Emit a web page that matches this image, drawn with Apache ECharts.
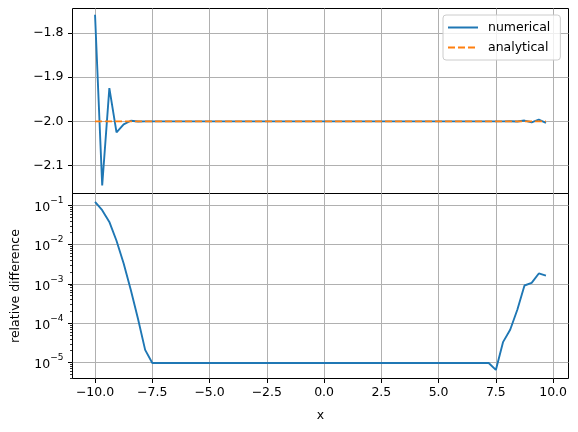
<!DOCTYPE html>
<html><head><meta charset="utf-8">
<script src="https://cdn.jsdelivr.net/npm/echarts@6/dist/echarts.min.js"></script>
<style>html,body{margin:0;padding:0;background:#fff}#c{width:578px;height:432px}</style>
</head><body><div id="c"></div>
<script>
const xValues = [-10, -9.6875, -9.375, -9.0625, -8.75, -8.4375, -8.125, -7.8125, -7.5, -7.1875, -6.875, -6.5625, -6.25, -5.9375, -5.625, -5.3125, -5, -4.6875, -4.375, -4.0625, -3.75, -3.4375, -3.125, -2.8125, -2.5, -2.1875, -1.875, -1.5625, -1.25, -0.9375, -0.625, -0.3125, 0, 0.3125, 0.625, 0.9375, 1.25, 1.5625, 1.875, 2.1875, 2.5, 2.8125, 3.125, 3.4375, 3.75, 4.0625, 4.375, 4.6875, 5, 5.3125, 5.625, 5.9375, 6.25, 6.5625, 6.875, 7.1875, 7.5, 7.8125, 8.125, 8.4375, 8.75, 9.0625, 9.375, 9.6875];
const numerical = [-1.759, -2.145, -1.925, -2.025, -2.0066, -1.9986, -2.00026, -1.99996,
  -2.00002, -2.00002, -2.00002, -2.00002, -2.00002, -2.00002, -2.00002, -2.00002,
  -2.00002, -2.00002, -2.00002, -2.00002, -2.00002, -2.00002, -2.00002, -2.00002,
  -2.00002, -2.00002, -2.00002, -2.00002, -2.00002, -2.00002, -2.00002, -2.00002,
  -2.00002, -2.00002, -2.00002, -2.00002, -2.00002, -2.00002, -2.00002, -2.00002,
  -2.00002, -2.00002, -2.00002, -2.00002, -2.00002, -2.00002, -2.00002, -2.00002,
  -2.00002, -2.00002, -2.00002, -2.00002, -2.00002, -2.00002, -2.00002, -2.00002,
  -1.99999, -2.00007, -1.99986, -2.00044, -1.9982, -2.0021, -1.9963, -2.0032];
const analytical = [-2, -2, -2, -2, -2, -2, -2, -2, -2, -2, -2, -2, -2, -2, -2, -2,
  -2, -2, -2, -2, -2, -2, -2, -2, -2, -2, -2, -2, -2, -2, -2, -2,
  -2, -2, -2, -2, -2, -2, -2, -2, -2, -2, -2, -2, -2, -2, -2, -2,
  -2, -2, -2, -2, -2, -2, -2, -2, -2, -2, -2, -2, -2, -2, -2, -2];
const relativeDifference = [0.121, 0.0746, 0.0377, 0.0125, 0.0033, 7.0e-4, 1.3e-4, 2.1e-5, 9.7e-6,
  9.7e-6, 9.7e-6, 9.7e-6, 9.7e-6, 9.7e-6, 9.7e-6, 9.7e-6, 9.7e-6, 9.7e-6, 9.7e-6,
  9.7e-6, 9.7e-6, 9.7e-6, 9.7e-6, 9.7e-6, 9.7e-6, 9.7e-6, 9.7e-6, 9.7e-6, 9.7e-6,
  9.7e-6, 9.7e-6, 9.7e-6, 9.7e-6, 9.7e-6, 9.7e-6, 9.7e-6, 9.7e-6, 9.7e-6, 9.7e-6,
  9.7e-6, 9.7e-6, 9.7e-6, 9.7e-6, 9.7e-6, 9.7e-6, 9.7e-6, 9.7e-6, 9.7e-6, 9.7e-6,
  9.7e-6, 9.7e-6, 9.7e-6, 9.7e-6, 9.7e-6, 9.7e-6, 9.7e-6,
  6.5e-6, 3.3e-5, 6.8e-5, 2.2e-4, 9.1e-4, 1.06e-3, 1.84e-3, 1.62e-3];
const xTicks = [-10, -7.5, -5, -2.5, 0, 2.5, 5, 7.5, 10];
const topTicks = [-2.1, -2.0, -1.9, -1.8];
const logExponents = [-5, -4, -3, -2, -1];

const FONT = 'DejaVu Sans';
const MINUS = '\u2212';
const fmt1 = v => (v < 0 ? MINUS : '') + Math.abs(v).toFixed(1);
const X_MIN = -10.984, X_MAX = 10.672;
const LOG_MIN = -5.406, LOG_MAX = -0.702;
const minorLog = [];
for (let n = -6; n <= -1; n++) for (let k = 2; k <= 9; k++) {
  const v = Math.log10(k) + n; if (v > LOG_MIN && v < LOG_MAX) minorLog.push(v);
}
const tickStyle = { show: true, length: 4.5, lineStyle: { color: '#000', width: 1 } };
const splitStyle = { show: true, lineStyle: { color: '#b0b0b0', width: 1 } };
const noLine = { show: false, onZero: false };
const labelBase = { color: '#000', fontFamily: FONT, fontSize: 12.5 };

const chart = echarts.init(document.getElementById('c'), null, { renderer: 'canvas' });
chart.setOption({
  animation: false,
  backgroundColor: '#fff',
  grid: [
    { left: 72.5, width: 496, top: 8.5, height: 185, show: true, borderColor: '#000', borderWidth: 1, backgroundColor: 'transparent' },
    { left: 72.5, width: 496, top: 193.5, height: 185, show: true, borderColor: '#000', borderWidth: 1, backgroundColor: 'transparent' }
  ],
  legend: {
    orient: 'vertical', left: 443, top: 15,
    padding: [6, 10, 6, 4], itemGap: 7, itemWidth: 30, itemHeight: 14,
    backgroundColor: 'rgba(255,255,255,0.8)', borderColor: '#cccccc', borderWidth: 1, borderRadius: 3,
    itemStyle: { opacity: 0 },
    textStyle: Object.assign({}, labelBase, { padding: [0, 0, 0, 5] }),
    data: ['numerical', 'analytical']
  },
  xAxis: [
    { type: 'value', gridIndex: 0, min: X_MIN, max: X_MAX,
      axisLine: noLine, axisLabel: { show: false, customValues: xTicks },
      axisTick: { show: false, customValues: xTicks }, splitLine: splitStyle },
    { type: 'value', gridIndex: 1, min: X_MIN, max: X_MAX,
      axisLine: noLine,
      axisLabel: Object.assign({}, labelBase, { customValues: xTicks, formatter: fmt1, margin: 8 }),
      axisTick: Object.assign({}, tickStyle, { customValues: xTicks }), splitLine: splitStyle,
      name: 'x', nameLocation: 'middle', nameGap: 31, nameTextStyle: labelBase }
  ],
  yAxis: [
    { type: 'value', gridIndex: 0, min: -2.163, max: -1.745,
      axisLine: noLine,
      axisLabel: Object.assign({}, labelBase, { customValues: topTicks, formatter: fmt1, margin: 9 }),
      axisTick: Object.assign({}, tickStyle, { customValues: topTicks }), splitLine: splitStyle },
    { type: 'value', gridIndex: 1, min: LOG_MIN, max: LOG_MAX,
      axisLine: noLine,
      axisLabel: Object.assign({}, labelBase, {
        customValues: logExponents, margin: 9,
        formatter: v => '{b|10}{s|' + MINUS + Math.abs(Math.round(v)) + '}',
        rich: {
          b: { fontFamily: FONT, fontSize: 12.5, color: '#000', lineHeight: 18, verticalAlign: 'bottom' },
          s: { fontFamily: FONT, fontSize: 9, color: '#000', lineHeight: 8, verticalAlign: 'top' }
        }
      }),
      axisTick: Object.assign({}, tickStyle, { customValues: logExponents }), splitLine: splitStyle,
      name: 'relative difference', nameLocation: 'middle', nameGap: 50, nameTextStyle: labelBase },
    { type: 'value', gridIndex: 1, min: LOG_MIN, max: LOG_MAX, position: 'left',
      axisLine: noLine, axisLabel: { show: false },
      axisTick: { show: true, length: 2.5, lineStyle: { color: '#000', width: 0.8 }, customValues: minorLog },
      splitLine: { show: false } }
  ],
  series: [
    { name: 'numerical', type: 'line', xAxisIndex: 0, yAxisIndex: 0, symbol: 'none',
      lineStyle: { color: '#1f77b4', width: 1.9 }, itemStyle: { color: '#1f77b4' },
      data: xValues.map((x, i) => [x, numerical[i]]) },
    { name: 'analytical', type: 'line', xAxisIndex: 0, yAxisIndex: 0, symbol: 'none',
      lineStyle: { color: '#ff7f0e', width: 1.9, type: [7, 3] }, itemStyle: { color: '#ff7f0e' },
      data: xValues.map((x, i) => [x, analytical[i]]) },
    { name: 'relative difference', type: 'line', xAxisIndex: 1, yAxisIndex: 1, symbol: 'none',
      lineStyle: { color: '#1f77b4', width: 1.9 }, itemStyle: { color: '#1f77b4' },
      data: xValues.map((x, i) => [x, Math.log10(relativeDifference[i])]) }
  ]
});
</script></body></html>
